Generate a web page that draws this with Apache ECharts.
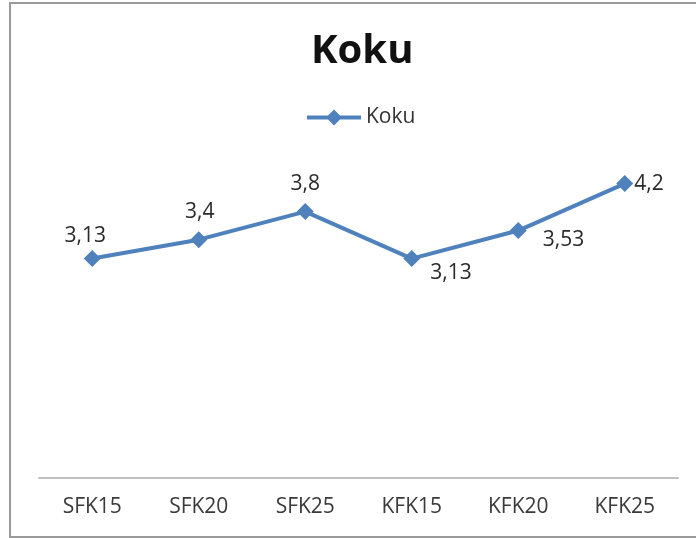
<!DOCTYPE html>
<html>
<head>
<meta charset="utf-8">
<script src="https://cdn.jsdelivr.net/npm/echarts@6/dist/echarts.min.js"></script>
<style>
  html, body { margin: 0; padding: 0; background: #fff; }
  #chart { width: 696px; height: 538px; }
</style>
</head>
<body>
<div id="chart"></div>
<script>
const categories = ['SFK15', 'SFK20', 'SFK25', 'KFK15', 'KFK20', 'KFK25'];
const kokuValues = [3.13, 3.4, 3.8, 3.13, 3.53, 4.2];
const seriesName = 'Koku';
const titleText = 'Koku';

// label placement per point (style only)
const labelStyles = [
  { position: 'top', distance: 4, offset: [-7, 0] },
  { position: 'top', distance: 9, offset: [1, 0] },
  { position: 'top', distance: 9, offset: [0, 0] },
  { position: 'right', distance: 10, offset: [0, 14] },
  { position: 'right', distance: 16, offset: [0, 9] },
  { position: 'right', distance: 1, offset: [0, 0] }
];

const fontFam = '"Open Sans", "Liberation Sans", sans-serif';
const chart = echarts.init(document.getElementById('chart'));
chart.setOption({
  animation: false,
  backgroundColor: '#fff',
  title: {
    text: titleText,
    left: 306,
    top: 27,
    textStyle: { fontFamily: fontFam, fontSize: 40, fontWeight: 'bold', color: '#111' }
  },
  legend: {
    data: [{ name: seriesName, icon: 'path://M0,8 L21,8 L27,2 L33,8 L54,8 L54,12 L33,12 L27,18 L21,12 L0,12 Z' }],
    top: 102,
    left: 302,
    itemWidth: 54,
    itemHeight: 16,
    itemGap: 4,
    textStyle: { fontFamily: fontFam, fontSize: 21, color: '#333' }
  },
  graphic: [{
    type: 'rect',
    shape: { x: 10, y: 3, width: 700, height: 534 },
    style: { fill: 'none', stroke: '#9a9a9a', lineWidth: 2 },
    silent: true
  }],
  grid: { left: 39, right: 18, top: 127.5, bottom: 60 },
  xAxis: {
    type: 'category',
    data: categories,
    boundaryGap: true,
    axisLine: { lineStyle: { color: '#bfbfbf', width: 2 } },
    axisTick: { show: false },
    axisLabel: { fontFamily: fontFam, fontSize: 21, color: '#3a3a3a', margin: 19 }
  },
  yAxis: {
    type: 'value',
    min: 0,
    max: 5,
    interval: 1,
    show: false,
    splitLine: { show: false }
  },
  series: [{
    name: seriesName,
    type: 'line',
    data: kokuValues.map((v, i) => ({
      value: v,
      label: labelStyles[i]
    })),
    symbol: 'diamond',
    symbolSize: 17,
    lineStyle: { color: '#4f81bd', width: 4 },
    itemStyle: { color: '#4f81bd' },
    label: {
      show: true,
      fontFamily: fontFam,
      fontSize: 21,
      color: '#2a2a2a',
      formatter: p => String(p.value).replace('.', ',')
    }
  }]
});
</script>
</body>
</html>
